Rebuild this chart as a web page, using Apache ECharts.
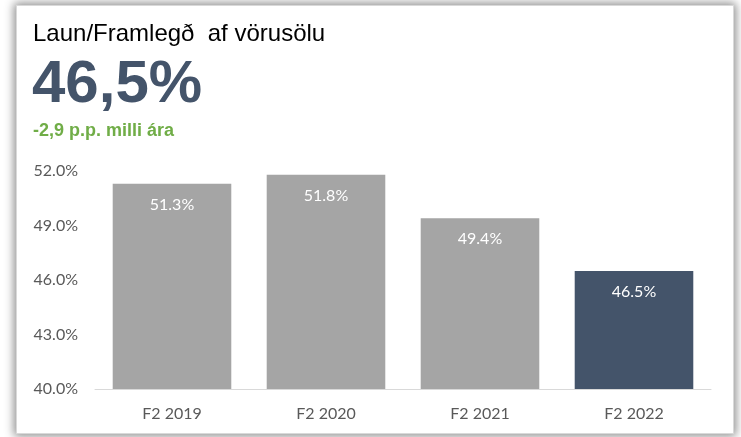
<!DOCTYPE html>
<html>
<head>
<meta charset="utf-8">
<script src="https://cdn.jsdelivr.net/npm/echarts@6/dist/echarts.min.js"></script>
<style>
  html, body { margin: 0; padding: 0; background: #fff; }
  #card {
    position: absolute; left: 16px; top: 5px; width: 716px; height: 427px;
    border: 1px solid #d9d9d9; background: #fff;
    box-shadow: 0 0 9px 2px rgba(0,0,0,0.45);
  }
  #chart { position: absolute; left: 0; top: 0; width: 741px; height: 437px; }
</style>
</head>
<body>
<div id="card"></div>
<div id="chart"></div>
<script>
// data
const categories = ["F2 2019", "F2 2020", "F2 2021", "F2 2022"];
const values = [51.3, 51.8, 49.4, 46.5];
const barColors = ["#A5A5A5", "#A5A5A5", "#A5A5A5", "#44546A"];
const headline = "Laun/Framlegð  af vörusölu";
const bigNumber = "46,5%";
const change = "-2,9 p.p. milli ára";

const chart = echarts.init(document.getElementById("chart"));

const option = {
  backgroundColor: "transparent",
  animation: false,
  title: [
    {
      text: headline,
      left: 28, top: 17,
      textStyle: { fontFamily: "Liberation Sans", fontSize: 24, fontWeight: "normal", color: "#000" }
    },
    {
      text: bigNumber,
      left: 27, top: 50,
      textStyle: { fontFamily: "Liberation Sans", fontSize: 60, fontWeight: "bold", color: "#44546A" }
    },
    {
      text: change,
      left: 28, top: 117,
      textStyle: { fontFamily: "Liberation Sans", fontSize: 18, fontWeight: "bold", color: "#70AD47" }
    }
  ],
  grid: { left: 95, right: 30, top: 171, bottom: 48 },
  xAxis: {
    type: "category",
    data: categories,
    axisLine: { lineStyle: { color: "#D9D9D9", width: 1 } },
    axisTick: { show: false },
    axisLabel: { color: "#595959", fontFamily: "Lato", fontSize: 16, margin: 17 }
  },
  yAxis: {
    type: "value",
    min: 40, max: 52, interval: 3,
    splitLine: { show: false },
    axisLine: { show: false },
    axisTick: { show: false },
    axisLabel: {
      color: "#595959", fontFamily: "Lato", fontSize: 16, margin: 17,
      formatter: (v) => v.toFixed(1) + "%"
    }
  },
  series: [
    {
      type: "bar",
      data: values.map((v, i) => ({ value: v, itemStyle: { color: barColors[i] } })),
      barCategoryGap: "23%",
      label: {
        show: true,
        position: "insideTop",
        distance: 13,
        color: "#fff",
        fontFamily: "Lato",
        fontSize: 16,
        formatter: (p) => p.value.toFixed(1) + "%"
      }
    }
  ]
};

chart.setOption(option);
</script>
</body>
</html>
